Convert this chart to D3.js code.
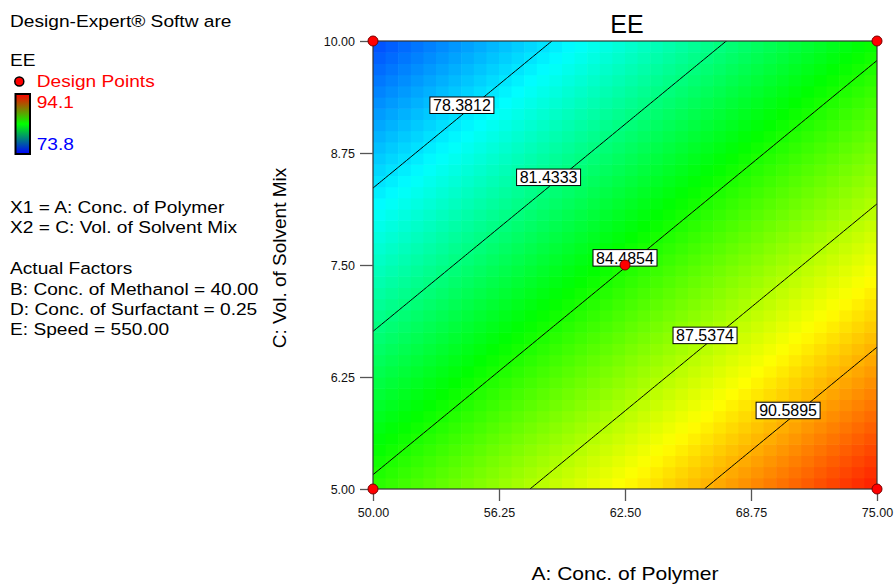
<!DOCTYPE html>
<html>
<head>
<meta charset="utf-8">
<script src="https://cdn.jsdelivr.net/npm/d3@7"></script>
<style>
  body { margin: 0; background: #fff; }
  text { font-family: "Liberation Sans", Arial, sans-serif; }
</style>
</head>
<body>
<div id="chart"></div>
<script>
// axis ranges and ticks
const xDomain = [50, 75];
const yDomain = [5, 10];
const xTicks = [50, 56.25, 62.5, 68.75, 75];
const yTicks = [5, 6.25, 7.5, 8.75, 10];

// linear model in coded units
const modelTerms = ["Intercept", "A", "C"];
const modelCoef = [84.43, 4.41, -4.77];

// contour levels and where along A their labels sit
const contourLevels = [78.3812, 81.4333, 84.4854, 87.5374, 90.5895];
const labelAtA = [54.41, 58.71, 62.5, 66.47, 70.59];

// design points
const designA = [50, 50, 75, 75, 62.5];
const designC = [5, 10, 5, 10, 7.5];

// colour range of the response
const colorRange = [73.8, 94.1];

const headerLines = ["X1 = A: Conc. of Polymer", "X2 = C: Vol. of Solvent Mix"];
const factorLines = ["Actual Factors", "B: Conc. of Methanol = 40.00",
  "D: Conc. of Surfactant = 0.25", "E: Speed = 550.00"];

const W = 896, H = 585;
const plot = { left: 373, right: 877, top: 41, bottom: 489 };

const svg = d3.select("#chart").append("svg")
  .attr("width", W).attr("height", H);

const x = d3.scaleLinear().domain(xDomain).range([plot.left, plot.right]);
const y = d3.scaleLinear().domain(yDomain).range([plot.bottom, plot.top]);

const coded = (v, dom) => (v - (dom[0] + dom[1]) / 2) / ((dom[1] - dom[0]) / 2);
const ee = (a, c) => modelCoef[0] + modelCoef[1] * coded(a, xDomain) + modelCoef[2] * coded(c, yDomain);

const [lo, hi] = colorRange;
const color = d3.scaleLinear()
  .domain(d3.range(5).map(i => lo + i * (hi - lo) / 4))
  .range(["#0000ff", "#00ffff", "#00ff00", "#ffff00", "#ff0000"])
  .clamp(true);

// clip
svg.append("clipPath").attr("id", "plotclip")
  .append("rect")
  .attr("x", plot.left).attr("y", plot.top)
  .attr("width", plot.right - plot.left).attr("height", plot.bottom - plot.top);

// raster surface
const nCell = 40;
const cells = [];
const da = (xDomain[1] - xDomain[0]) / nCell, dc = (yDomain[1] - yDomain[0]) / nCell;
for (let i = 0; i < nCell; i++) {
  for (let j = 0; j < nCell; j++) {
    const a0 = xDomain[0] + i * da, c0 = yDomain[0] + j * dc;
    cells.push({ a0, c0, v: ee(a0 + da / 2, c0 + dc / 2) });
  }
}
svg.append("g")
  .attr("clip-path", "url(#plotclip)")
  .selectAll("rect")
  .data(cells)
  .join("rect")
  .attr("x", d => x(d.a0))
  .attr("y", d => y(d.c0 + dc))
  .attr("width", x(xDomain[0] + da) - x(xDomain[0]) + 0.6)
  .attr("height", y(yDomain[0]) - y(yDomain[0] + dc) + 0.6)
  .attr("fill", d => color(d.v));

// contour lines
const n = 121;
const stepA = (xDomain[1] - xDomain[0]) / (n - 1), stepC = (yDomain[1] - yDomain[0]) / (n - 1);
const values = new Array(n * n);
for (let j = 0; j < n; j++) {
  for (let i = 0; i < n; i++) {
    values[j * n + i] = ee(xDomain[0] + i * stepA, yDomain[1] - j * stepC);
  }
}
const contours = d3.contours().size([n, n]).thresholds(contourLevels)(values);
const proj = d3.geoTransform({
  point(px, py) {
    this.stream.point(x(xDomain[0] + (px - 0.5) * stepA), y(yDomain[1] - (py - 0.5) * stepC));
  }
});
svg.append("g")
  .attr("clip-path", "url(#plotclip)")
  .selectAll("path")
  .data(contours)
  .join("path")
  .attr("d", d3.geoPath(proj))
  .attr("fill", "none")
  .attr("stroke", "#000")
  .attr("stroke-width", 1);

// plot frame
svg.append("rect")
  .attr("x", plot.left).attr("y", plot.top)
  .attr("width", plot.right - plot.left).attr("height", plot.bottom - plot.top)
  .attr("fill", "none").attr("stroke", "#333").attr("stroke-width", 1.2);

// axes
const fmt = d3.format(".2f");
const yAxis = svg.append("g")
  .attr("transform", `translate(${plot.left},0)`)
  .call(d3.axisLeft(y).tickValues(yTicks).tickFormat(fmt).tickSize(13).tickPadding(5));
const xAxis = svg.append("g")
  .attr("transform", `translate(0,${plot.bottom})`)
  .call(d3.axisBottom(x).tickValues(xTicks).tickFormat(fmt).tickSize(12).tickPadding(7));
[xAxis, yAxis].forEach(ax => {
  ax.select(".domain").remove();
  ax.selectAll(".tick line").attr("stroke", "#555").attr("stroke-width", 1.3);
  ax.selectAll(".tick text")
    .attr("fill", "#111")
    .style("font-size", "12.5px")
    .style("font-family", '"Liberation Sans", Arial, sans-serif');
});

// contour labels
const labelG = svg.append("g");
contourLevels.forEach((lev, i) => {
  const a = labelAtA[i];
  const cc = (lev - modelCoef[0] - modelCoef[1] * coded(a, xDomain)) / modelCoef[2];
  const c = (yDomain[0] + yDomain[1]) / 2 + cc * (yDomain[1] - yDomain[0]) / 2;
  const px = x(a), py = y(c) - 10;
  const g = labelG.append("g").attr("transform", `translate(${px},${py})`);
  g.append("rect")
    .attr("x", -32).attr("y", -8)
    .attr("width", 64).attr("height", 16.5)
    .attr("fill", "#fff").attr("stroke", "#000").attr("stroke-width", 1);
  g.append("text")
    .attr("text-anchor", "middle")
    .attr("y", 6)
    .style("font-size", "16px")
    .attr("fill", "#000")
    .text(lev.toFixed(4));
});

// design points
svg.append("g")
  .selectAll("circle")
  .data(designA.map((a, i) => [a, designC[i]]))
  .join("circle")
  .attr("cx", d => x(d[0]))
  .attr("cy", d => y(d[1]))
  .attr("r", 5)
  .attr("fill", "#ff0000")
  .attr("stroke", "#700")
  .attr("stroke-width", 1);

// title & axis titles
svg.append("text")
  .attr("x", 627).attr("y", 33)
  .attr("text-anchor", "middle")
  .style("font-size", "25px")
  .text("EE");

svg.append("text")
  .attr("transform", "translate(625,580) scale(1.17,1)")
  .attr("text-anchor", "middle")
  .style("font-size", "18px")
  .text("A: Conc. of Polymer");

svg.append("text")
  .attr("transform", "translate(286,258) rotate(-90)")
  .attr("text-anchor", "middle")
  .style("font-size", "19px")
  .text("C: Vol. of Solvent Mix");

// left-hand info panel
const stretch = 1.16;
const info = (txt, px, py, fill) => svg.append("text")
  .attr("transform", `translate(${px},${py}) scale(${stretch},1)`)
  .style("font-size", "16.5px")
  .attr("fill", fill || "#000")
  .text(txt);

info("Design-Expert® Softw are", 10, 26.5);
info("EE", 10, 66);
svg.append("circle")
  .attr("cx", 19.3).attr("cy", 81.5).attr("r", 4.5)
  .attr("fill", "#ff0000").attr("stroke", "#000").attr("stroke-width", 1.5);
info("Design Points", 36.7, 87.3, "#ff0000");

const grad = svg.append("defs").append("linearGradient")
  .attr("id", "legendGrad")
  .attr("x1", 0).attr("y1", 0).attr("x2", 0).attr("y2", 1);
grad.selectAll("stop")
  .data([["0%", "#ff0000"], ["50%", "#00ff00"], ["100%", "#0000ff"]])
  .join("stop")
  .attr("offset", d => d[0])
  .attr("stop-color", d => d[1]);
svg.append("rect")
  .attr("x", 15.5).attr("y", 94).attr("width", 14.5).attr("height", 60)
  .attr("fill", "url(#legendGrad)")
  .attr("stroke", "#000").attr("stroke-width", 2);

info(hi.toFixed(1), 36.7, 108.3, "#ff0000");
info(lo.toFixed(1), 36.7, 149.5, "#0000ff");

headerLines.forEach((l, i) => info(l, 10, 213.3 + i * 20));
factorLines.forEach((l, i) => info(l, 10, 274.3 + i * 20.3));
</script>
</body>
</html>
